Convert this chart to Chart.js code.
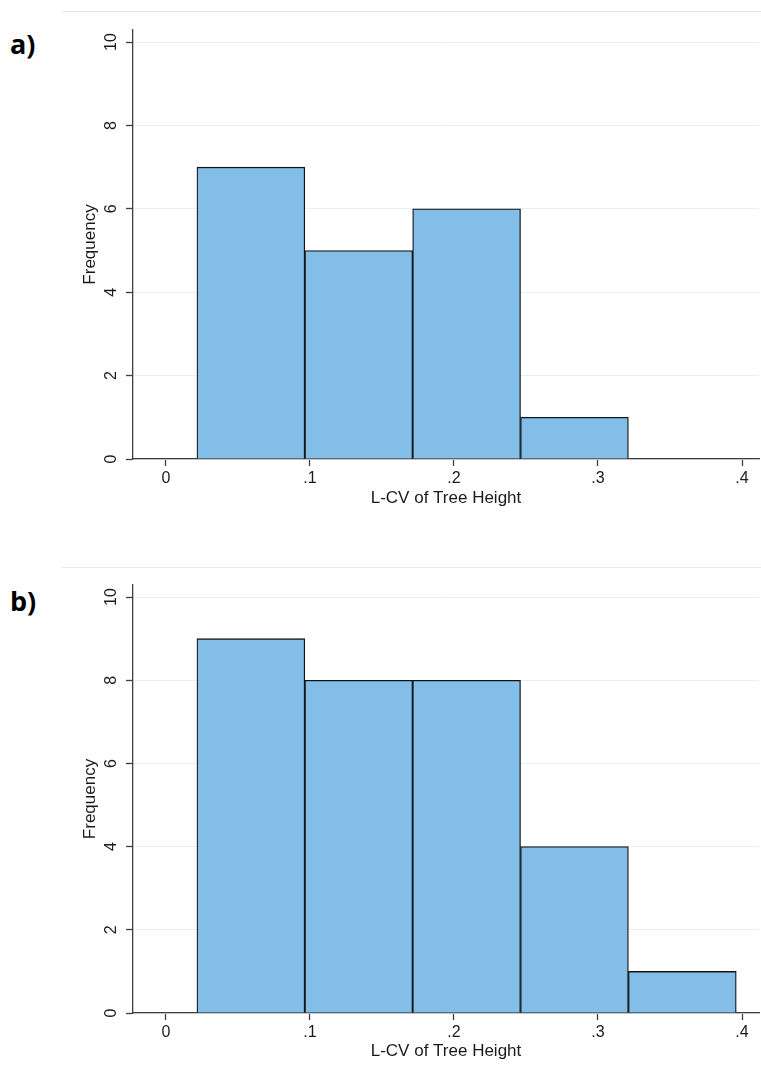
<!DOCTYPE html>
<html>
<head>
<meta charset="utf-8">
<title>L-CV of Tree Height histograms</title>
<script src="https://cdn.jsdelivr.net/npm/chart.js@4.4.1/dist/chart.umd.min.js"></script>
<style>
  html, body { margin: 0; padding: 0; background: #fff; overflow: hidden; }
  body { width: 761px; height: 1074px; position: relative; }
  .frame { position: absolute; left: 62px; right: 0; border-top: 1px solid #e4ebeb; }
  .tag { position: absolute; left: 10px; font: bold 27px 'Open Sans', sans-serif; line-height: 1; color: #000; }
  canvas { position: absolute; left: 0; }
</style>
</head>
<body>
<div class="frame" style="top:11px"></div>
<div class="tag" style="top:30px">a)</div>
<canvas id="histA" width="761" height="513" style="top:0"></canvas>

<div class="frame" style="top:567px"></div>
<div class="tag" style="top:587px">b)</div>
<canvas id="histB" width="761" height="511" style="top:555px"></canvas>

<script>
/* ── Data ─────────────────────────────────────────────────────────────────── */
const binEdges    = [0.0215, 0.0964, 0.1713, 0.2462, 0.3211, 0.3960];
const freqA       = [7, 5, 6, 1];
const freqB       = [9, 8, 8, 4, 1];
const xTicks      = [0, 0.1, 0.2, 0.3, 0.4];
const xTickLabels = ['0', '.1', '.2', '.3', '.4'];
const yTicks      = [0, 2, 4, 6, 8, 10];
const xTitle      = 'L-CV of Tree Height';
const yTitle      = 'Frequency';

/* ── Styles ───────────────────────────────────────────────────────────────── */
const FONT = "'Liberation Sans', Arial, sans-serif";
const COLORS = {
  bar    : '#82bee8',
  edge   : '#141414',
  axis   : '#3f3f3f',
  grid   : '#e8efef',
  text   : '#1a1a1a',
};

// xHeight = room below the plot for tick labels + axis title
function makeHistogram(canvasId, freq, xHeight) {
  const bars = freq.map((f, i) => ({ x: (binEdges[i] + binEdges[i + 1]) / 2, y: f }));

  return new Chart(document.getElementById(canvasId), {
    type: 'bar',
    data: {
      datasets: [{
        data              : bars,
        backgroundColor   : COLORS.bar,
        borderColor       : COLORS.edge,
        borderWidth       : 1.3,
        barPercentage     : 1,
        categoryPercentage: 1,
      }],
    },
    options: {
      responsive: false,
      animation : false,
      events    : [],
      layout    : { padding: { left: 77, right: 2, top: 30, bottom: 0 } },
      plugins   : { legend: { display: false }, tooltip: { enabled: false } },
      scales: {
        x: {
          type  : 'linear',
          min   : -0.0229,
          max   : 0.4118,
          offset: false,
          afterBuildTicks: s => { s.ticks = xTicks.map(v => ({ value: v })); },
          afterFit: s => { s.height = xHeight; },
          border: { color: COLORS.axis, width: 1.3 },
          grid  : { offset: false, drawOnChartArea: false, tickLength: 7, color: COLORS.axis, tickColor: COLORS.axis, tickWidth: 1.3 },
          ticks : {
            autoSkip: false, maxRotation: 0, padding: 3,
            color: COLORS.text, font: { family: FONT, size: 16 },
            callback: (v, i) => xTickLabels[i],
          },
          title : { display: true, text: xTitle, color: COLORS.text, font: { family: FONT, size: 17 }, padding: { top: 0, bottom: 4 } },
        },
        y: {
          min: 0,
          max: 10.29,
          afterBuildTicks: s => { s.ticks = yTicks.map(v => ({ value: v })); },
          afterFit: s => { s.width = 56; },
          border: { color: COLORS.axis, width: 1.3 },
          grid  : { color: COLORS.grid, lineWidth: 1, tickLength: 7, tickColor: COLORS.axis, tickWidth: 1.3 },
          ticks : {
            minRotation: 90, maxRotation: 90, crossAlign: 'center', padding: 6,
            color: COLORS.text, font: { family: FONT, size: 16 },
          },
          title : { display: true, text: yTitle, color: COLORS.text, font: { family: FONT, size: 17 }, padding: { top: 3, bottom: 0 } },
        },
      },
    },
  });
}

makeHistogram('histA', freqA, 54);
makeHistogram('histB', freqB, 53);
</script>
</body>
</html>
